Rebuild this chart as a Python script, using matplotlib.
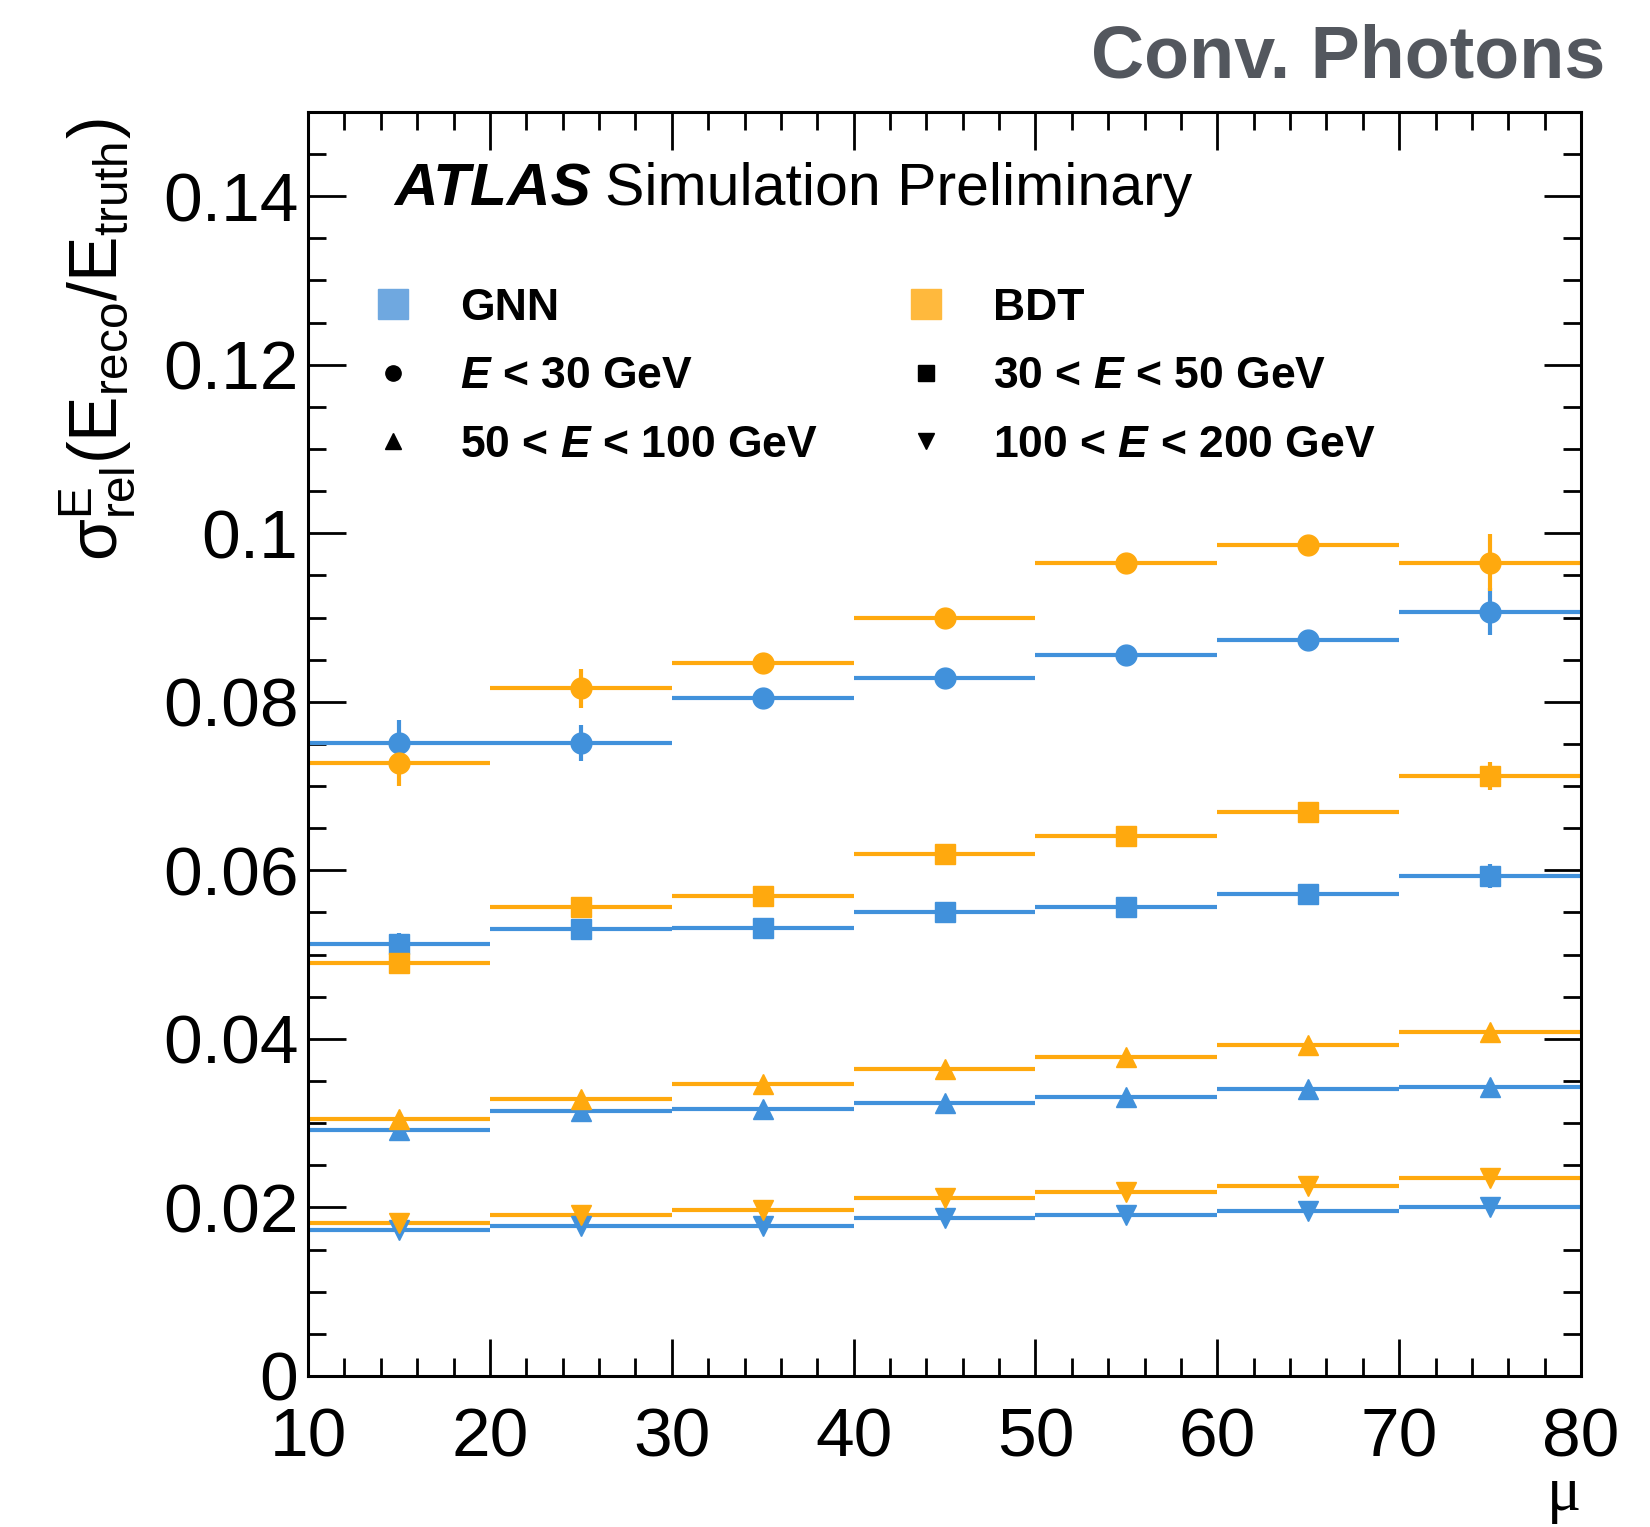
import matplotlib
matplotlib.use("Agg")
import matplotlib.pyplot as plt
from matplotlib.lines import Line2D
from matplotlib.ticker import MultipleLocator
import numpy as np

plt.rcParams['font.family'] = ['Liberation Sans', 'DejaVu Sans']
plt.rcParams['mathtext.fontset'] = 'custom'
plt.rcParams['mathtext.rm'] = 'Liberation Sans'
plt.rcParams['mathtext.it'] = 'Liberation Sans:italic'
plt.rcParams['mathtext.bf'] = 'Liberation Sans:bold'
try:
    plt.rcParams['mathtext.bfit'] = 'Liberation Sans:bold:italic'
except KeyError:
    pass

# ---- data ----
mu_edges = [10, 20, 30, 40, 50, 60, 70, 80]
mu_centers = [15, 25, 35, 45, 55, 65, 75]

gnn_e30 = [0.0751, 0.0751, 0.0804, 0.0828, 0.0856, 0.0873, 0.0907]
gnn_e30_err = [0.0027, 0.0021, 0.0008, 0.0006, 0.0006, 0.0007, 0.0028]
bdt_e30 = [0.0727, 0.0816, 0.0846, 0.0900, 0.0965, 0.0986, 0.0965]
bdt_e30_err = [0.0027, 0.0023, 0.0012, 0.0008, 0.0008, 0.0009, 0.0034]

gnn_e50 = [0.0513, 0.0530, 0.0532, 0.0550, 0.0557, 0.0572, 0.0593]
gnn_e50_err = [0.0013, 0.0006, 0.0005, 0.0005, 0.0005, 0.0006, 0.0014]
bdt_e50 = [0.0490, 0.0557, 0.0569, 0.0619, 0.0641, 0.0669, 0.0712]
bdt_e50_err = [0.0012, 0.0006, 0.0006, 0.0006, 0.0006, 0.0007, 0.0017]

gnn_e100 = [0.0292, 0.0315, 0.0317, 0.0324, 0.0331, 0.0340, 0.0343]
gnn_e100_err = [0.0004, 0.0003, 0.0003, 0.0003, 0.0003, 0.0003, 0.0004]
bdt_e100 = [0.0305, 0.0329, 0.0347, 0.0364, 0.0378, 0.0393, 0.0408]
bdt_e100_err = [0.0004, 0.0003, 0.0003, 0.0003, 0.0003, 0.0003, 0.0004]

gnn_e200 = [0.0173, 0.0178, 0.0178, 0.0187, 0.0191, 0.0196, 0.0201]
gnn_e200_err = [0.0004, 0.0003, 0.0003, 0.0003, 0.0003, 0.0003, 0.0003]
bdt_e200 = [0.0182, 0.0191, 0.0197, 0.0211, 0.0218, 0.0226, 0.0235]
bdt_e200_err = [0.0004, 0.0003, 0.0003, 0.0003, 0.0003, 0.0003, 0.0003]

GNN_COLOR = '#4191db'
BDT_COLOR = '#ffa90e'
GNN_LEG = '#6fa8e0'
BDT_LEG = '#ffb93d'

fig = plt.figure(figsize=(16.5, 15.27), dpi=100)
ax = fig.add_axes([0.1867, 0.0989, 0.7715, 0.8278])

half_w = [(mu_edges[i + 1] - mu_edges[i]) / 2 for i in range(len(mu_centers))]

series = [
    (gnn_e30, gnn_e30_err, bdt_e30, bdt_e30_err, 'o', 15),
    (gnn_e50, gnn_e50_err, bdt_e50, bdt_e50_err, 's', 14),
    (gnn_e100, gnn_e100_err, bdt_e100, bdt_e100_err, '^', 15),
    (gnn_e200, gnn_e200_err, bdt_e200, bdt_e200_err, 'v', 15),
]
for g, ge, b, be, mk, ms in series:
    for vals, errs, col in ((g, ge, GNN_COLOR), (b, be, BDT_COLOR)):
        ax.errorbar(mu_centers, vals, xerr=half_w, yerr=errs, fmt=mk, color=col,
                    ms=ms, mec=col, elinewidth=3.0, capsize=0, linestyle='none')

ax.set_xlim(10, 80)
ax.set_ylim(0, 0.15)
ax.xaxis.set_major_locator(MultipleLocator(10))
ax.xaxis.set_minor_locator(MultipleLocator(2))
ax.yaxis.set_major_locator(MultipleLocator(0.02))
ax.yaxis.set_minor_locator(MultipleLocator(0.005))
ax.set_yticks([0, 0.02, 0.04, 0.06, 0.08, 0.1, 0.12, 0.14])
ax.set_yticklabels(['0', '0.02', '0.04', '0.06', '0.08', '0.1', '0.12', '0.14'])
ax.tick_params(which='both', direction='in', top=True, right=True, width=2.0)
ax.tick_params(which='major', length=27, labelsize=50)
ax.tick_params(which='minor', length=13)
ax.tick_params(axis='x', which='major', pad=22)
ax.tick_params(axis='y', which='major', pad=7)
for sp in ax.spines.values():
    sp.set_linewidth(2.2)

ax.set_ylabel(r'$\mathrm{\sigma^{E}_{rel}(E_{reco}/E_{truth})}$', fontsize=49, loc='top')
ax.yaxis.set_label_coords(-0.134, 0.995)
ax.set_xlabel('μ', fontsize=46, loc='right', family=['Liberation Serif', 'DejaVu Serif'],
              labelpad=-3)

# ATLAS label
ax.text(0.068, 0.926, 'ATLAS', transform=ax.transAxes, fontsize=43.5,
        fontweight='bold', fontstyle='italic', va='baseline')
ax.text(0.233, 0.926, 'Simulation Preliminary', transform=ax.transAxes,
        fontsize=42.5, va='baseline')

fig.text(0.973, 0.949, 'Conv. Photons', fontsize=53, fontweight='bold',
         color='#53575e', ha='right', va='baseline')

# legends
h1 = [Line2D([], [], marker='s', ls='none', color=GNN_LEG, ms=22),
      Line2D([], [], marker='o', ls='none', color='black', ms=11),
      Line2D([], [], marker='^', ls='none', color='black', ms=11)]
l1 = ['GNN', r'$\mathbfit{E}$ < 30 GeV', r'50 < $\mathbfit{E}$ < 100 GeV']
h2 = [Line2D([], [], marker='s', ls='none', color=BDT_LEG, ms=22),
      Line2D([], [], marker='s', ls='none', color='black', ms=11),
      Line2D([], [], marker='v', ls='none', color='black', ms=11)]
l2 = ['BDT', r'30 < $\mathbfit{E}$ < 50 GeV', r'100 < $\mathbfit{E}$ < 200 GeV']

leg_kw = dict(loc='upper left', frameon=False, borderpad=0, borderaxespad=0,
              handlelength=1.0, handletextpad=1.01, labelspacing=0.62,
              prop={'weight': 'bold', 'size': 32})
leg1 = ax.legend(h1, l1, bbox_to_anchor=(0.0495, 0.861), **leg_kw)
ax.add_artist(leg1)
ax.legend(h2, l2, bbox_to_anchor=(0.468, 0.861), **leg_kw)

fig.savefig('out.png', dpi=100)
